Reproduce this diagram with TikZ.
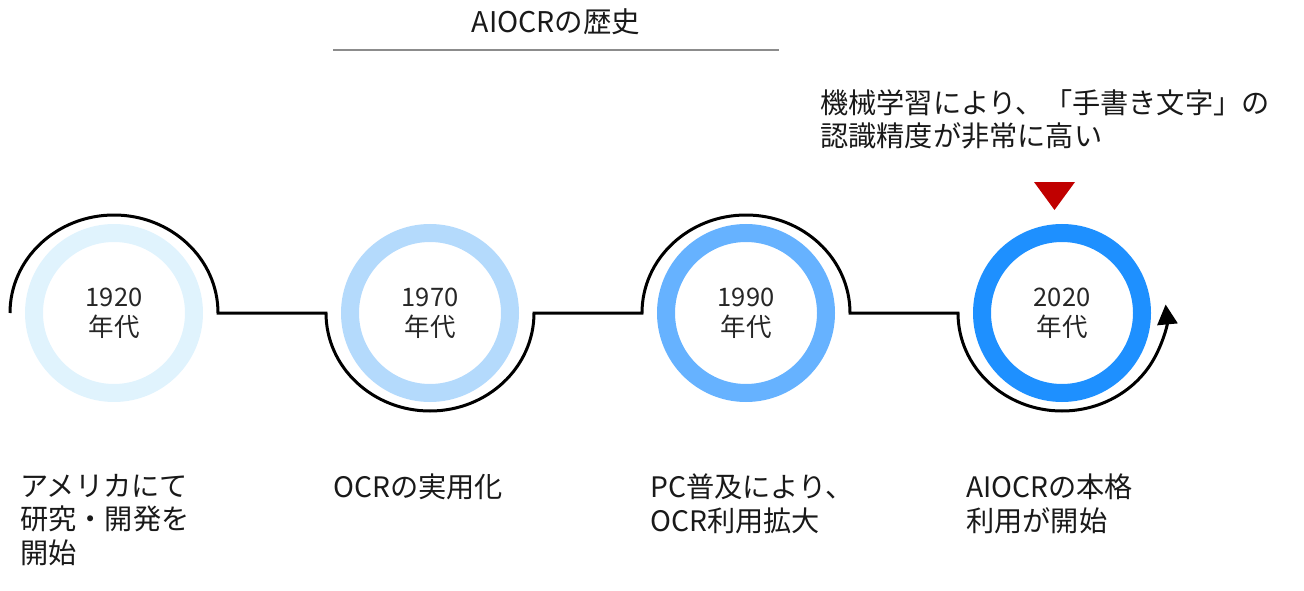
\documentclass[tikz,border=0pt]{standalone}
\usepackage{fontspec}
\setmainfont{Noto Sans CJK JP}
\usetikzlibrary{arrows.meta}
\definecolor{ringA}{RGB}{224,243,253}
\definecolor{ringB}{RGB}{180,218,252}
\definecolor{ringC}{RGB}{102,178,255}
\definecolor{ringD}{RGB}{30,144,255}
\definecolor{markred}{RGB}{192,0,0}
\definecolor{rulegray}{RGB}{140,140,140}
\tikzset{
  ring/.style={circle, line width=18pt, minimum size=160pt, inner sep=0pt,
    align=center, font=\fontsize{25.5}{30}\selectfont, text=black!85},
  notetext/.style={anchor=north west, inner sep=0pt, align=left,
    font=\fontsize{28.2}{33.5}\selectfont, text=black!90},
  conn/.style={line width=3pt, black},
}
\begin{document}
\begin{tikzpicture}[x=1pt,y=1pt]
\useasboundingbox (0,0) rectangle (1304,-591);
% title
\node[font=\fontsize{28.5}{33}\selectfont, text=black!90] (title) at (556,-22) {AIOCRの歴史};
\coordinate (rl) at (333,-50);
\coordinate (rr) at (779,-50);
\draw[rulegray, line width=2pt] (rl) -- (rr);
% rings
\node[ring, draw=ringA] (c1) at (114,-313) {1920\\年代};
\node[ring, draw=ringB] (c2) at (430,-313) {1970\\年代};
\node[ring, draw=ringC] (c3) at (746,-313) {1990\\年代};
\node[ring, draw=ringD] (c4) at (1062,-313) {2020\\年代};
% connector
\draw[conn, -{Triangle[width=20pt,length=20pt]}]
  ([xshift=-104pt]c1.center) arc[start angle=180, end angle=0, x radius=104, y radius=98]
  -- ([xshift=-104pt]c2.center) arc[start angle=180, end angle=360, x radius=104, y radius=98]
  -- ([xshift=-104pt]c3.center) arc[start angle=180, end angle=0, x radius=104, y radius=98]
  -- ([xshift=-104pt]c4.center) arc[start angle=180, end angle=365, x radius=104, y radius=98];
% marker
\fill[markred] (1034,-182) -- (1075,-182) -- (1054.5,-210) -- cycle;
% notes
\node[notetext] (note) at (820,-89) {機械学習により、「手書き文字」の\\認識精度が非常に高い};
\node[notetext] (l1) at (20,-474) {アメリカにて\\研究・開発を\\開始};
\node[notetext] (l2) at (333,-474) {OCRの実用化};
\node[notetext] (l3) at (650,-474) {PC普及により、\\OCR利用拡大};
\node[notetext] (l4) at (966,-474) {AIOCRの本格\\利用が開始};
\end{tikzpicture}
\end{document}
